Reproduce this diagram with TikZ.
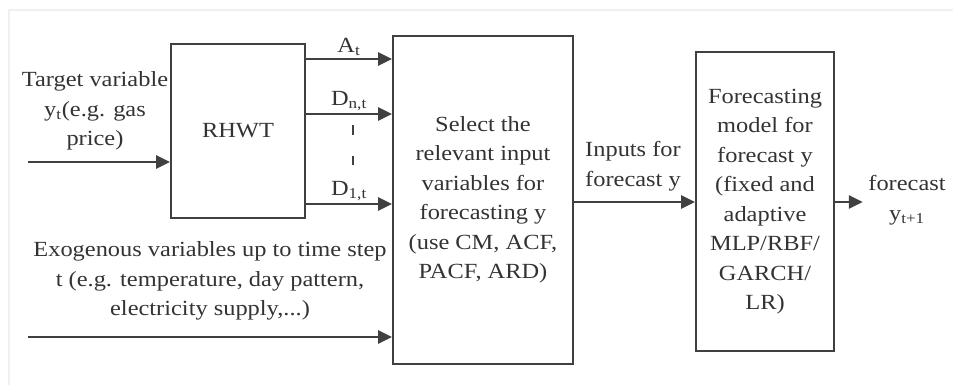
\documentclass[tikz,border=0pt]{standalone}
\usepackage{fontspec}
\setmainfont{Liberation Serif}[FakeStretch=1.13]
\usetikzlibrary{arrows.meta}

\begin{document}
\begin{tikzpicture}[
  x=0.75pt,y=-0.75pt,>={Triangle[length=10.5pt,width=10pt]},
  txt/.style={align=center,font=\fontsize{16.2}{22.1}\selectfont,
    text=black!80,inner sep=0pt},
  block/.style={txt,draw=black!75,line width=1.5pt,fill=white},
  flow/.style={->,draw=black!75,line width=1.6pt},
  lbl/.style={txt,above,inner sep=1.5pt}
]
\useasboundingbox (0,0) rectangle (953,385);
\draw[black!6,line width=1.5pt] (9,385) -- (9,10) -- (953,10);

\node[block,minimum width=100.5pt,minimum height=130.5pt] (rhwt) at (238,131) {RHWT};
\node[block,minimum width=135pt,minimum height=246pt] (select) at (483,200)
  {Select the\\relevant input\\variables for\\forecasting y\\(use CM, ACF,\\PACF, ARD)};
\node[block,minimum width=103.5pt,minimum height=224.25pt] (model) at (765,201.5)
  {Forecasting\\model for\\forecast y\\(fixed and\\adaptive\\MLP/RBF/\\GARCH/\\LR)};

\node[txt] (target) at (95,111) {Target variable\\y\textsubscript{t}(e.g. gas\\price)};
\node[txt] (exo) at (210,281)
  {Exogenous variables up to time step\\t (e.g. temperature, day pattern,\\electricity supply,...)};
\node[txt] (inlbl) at (633,166) {Inputs for\\forecast y};
\node[txt,inner sep=4pt] (fc) at (907,200) {forecast\\y\textsubscript{t+1}};

\coordinate (yA) at (0,59);
\coordinate (yN) at (0,114);
\coordinate (y1) at (0,204);
\coordinate (yI) at (0,202);
\coordinate (tin) at (28,162);
\coordinate (xin) at (28,337);

% inputs
\draw[flow] (tin) -- (tin -| rhwt.west);
\draw[flow] (xin) -- (xin -| select.west);

% wavelet components
\draw[flow] (rhwt.east |- yA) -- node[lbl] {A\textsubscript{t}} (select.west |- yA);
\draw[flow] (rhwt.east |- yN) -- node[lbl] {D\textsubscript{n,t}} (select.west |- yN);
\draw[flow] (rhwt.east |- y1) -- node[lbl] {D\textsubscript{1,t}} (select.west |- y1);
\draw[draw=black!75,line width=1pt,dash pattern=on 7.5pt off 16pt] (353,125) -- (353,165);

% selection to model to forecast
\draw[flow] (select.east |- yI) -- (model.west |- yI);
\draw[flow] (model.east |- yI) -- (fc.west |- yI);
\end{tikzpicture}
\end{document}
